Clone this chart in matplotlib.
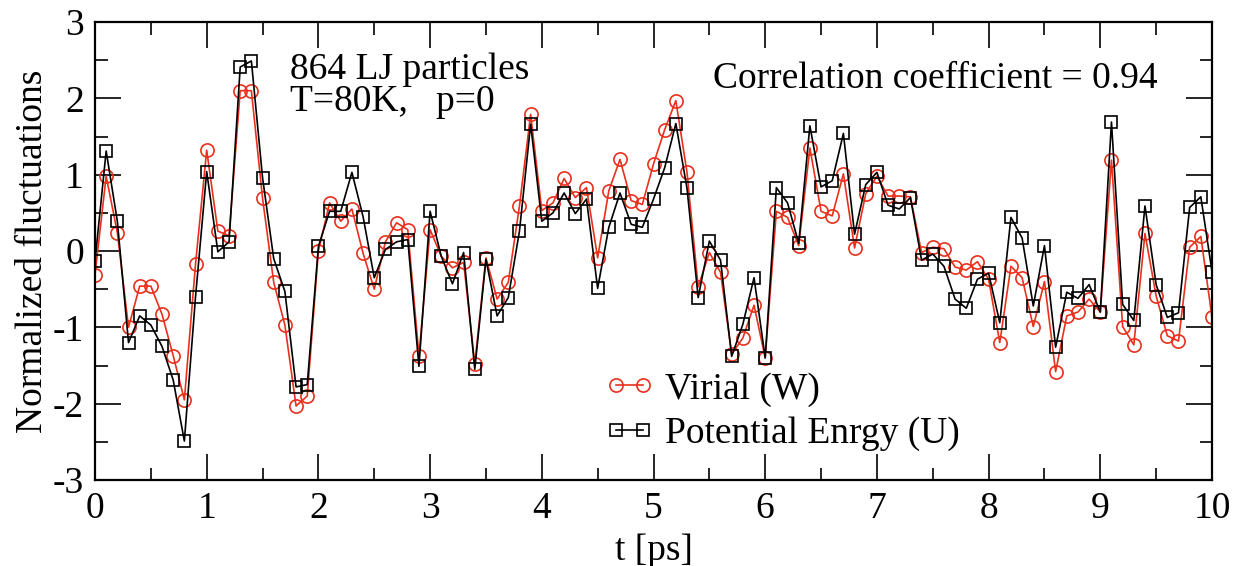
import numpy as np
import matplotlib
matplotlib.use("Agg")
import matplotlib.pyplot as plt
from matplotlib.ticker import MultipleLocator

t = [round(0.1 * i, 1) for i in range(101)]

virial = [
    -0.31, 0.98, 0.24, -1.00, -0.46, -0.46, -0.83, -1.37, -1.95, -0.17,
    1.32, 0.26, 0.20, 2.10, 2.10, 0.69, -0.41, -0.97, -2.03, -1.90,
    0.00, 0.63, 0.39, 0.55, -0.03, -0.50, 0.12, 0.37, 0.28, -1.37,
    0.28, -0.07, -0.22, -0.15, -1.48, -0.09, -0.63, -0.41, 0.59, 1.79,
    0.53, 0.63, 0.95, 0.70, 0.83, -0.09, 0.79, 1.20, 0.66, 0.61,
    1.14, 1.59, 1.97, 1.03, -0.47, -0.02, -0.28, -1.35, -1.14, -0.71,
    -1.40, 0.52, 0.44, 0.07, 1.35, 0.52, 0.46, 1.01, 0.04, 0.75,
    0.98, 0.72, 0.72, 0.71, -0.02, 0.05, 0.03, -0.21, -0.25, -0.14,
    -0.37, -1.20, -0.20, -0.35, -0.99, -0.40, -1.58, -0.85, -0.80, -0.63,
    -0.80, 1.19, -0.99, -1.23, 0.23, -0.59, -1.11, -1.18, 0.05, 0.19,
    -0.87,
]

potential = [
    -0.13, 1.31, 0.39, -1.20, -0.85, -0.97, -1.25, -1.69, -2.49, -0.60,
    1.04, -0.01, 0.12, 2.41, 2.49, 0.96, -0.10, -0.53, -1.78, -1.75,
    0.06, 0.52, 0.52, 1.03, 0.45, -0.35, 0.02, 0.12, 0.15, -1.51,
    0.52, -0.07, -0.43, -0.02, -1.55, -0.11, -0.85, -0.61, 0.26, 1.66,
    0.39, 0.50, 0.76, 0.49, 0.68, -0.49, 0.31, 0.76, 0.35, 0.31,
    0.68, 1.09, 1.67, 0.82, -0.61, 0.13, -0.12, -1.38, -0.96, -0.35,
    -1.40, 0.83, 0.63, 0.10, 1.64, 0.84, 0.92, 1.54, 0.22, 0.87,
    1.03, 0.60, 0.55, 0.70, -0.12, -0.04, -0.20, -0.63, -0.75, -0.37,
    -0.29, -0.94, 0.44, 0.17, -0.72, 0.07, -1.26, -0.54, -0.62, -0.44,
    -0.80, 1.69, -0.70, -0.91, 0.59, -0.44, -0.87, -0.81, 0.57, 0.71,
    -0.27,
]

x_ticks = list(range(0, 11))
y_ticks = list(range(-3, 4))

plt.rcParams['font.family'] = ['Liberation Serif', 'DejaVu Serif']
plt.rcParams['axes.unicode_minus'] = False

FS = 27

fig = plt.figure(figsize=(12.42, 5.66), dpi=100)
ax = fig.add_axes([95/1242, 1 - 480/566, (1212 - 95)/1242, (480 - 22)/566])

red = '#e8301c'
ax.plot(t, virial, color=red, lw=1.2, marker='o', ms=9.5, mfc='none',
        mec=red, mew=1.2, label='Virial (W)', zorder=2)
ax.plot(t, potential, color='black', lw=1.2, marker='s', ms=8.5, mfc='none',
        mec='black', mew=1.2, label='Potential Enrgy (U)', zorder=3)

ax.set_xlim(0, 10)
ax.set_ylim(-3, 3)
ax.set_xticks(x_ticks)
ax.set_yticks(y_ticks)
ax.xaxis.set_minor_locator(MultipleLocator(0.5))
ax.yaxis.set_minor_locator(MultipleLocator(0.5))
ax.tick_params(which='both', direction='in', top=True, right=True,
               labelsize=FS, width=1.2)
ax.tick_params(which='major', length=19, pad=8)
ax.tick_params(which='minor', length=9)
for s in ax.spines.values():
    s.set_linewidth(1.6)

ax.set_xlabel('t [ps]', fontsize=FS, labelpad=6)
ax.set_ylabel('Normalized fluctuations', fontsize=FS, labelpad=2)

ax.text(1.75, 2.25, '864 LJ particles', fontsize=FS, va='baseline', ha='left')
ax.text(1.75, 1.83, 'T=80K,   p=0', fontsize=FS, va='baseline', ha='left')
ax.text(5.53, 2.14, 'Correlation coefficient = 0.94', fontsize=FS,
        va='baseline', ha='left')

leg = ax.legend(loc='upper left', bbox_to_anchor=(605/1242, 1 - 372/566),
                bbox_transform=fig.transFigure, frameon=False, fontsize=FS,
                numpoints=2, handlelength=1.3, handletextpad=0.3,
                labelspacing=0.27, borderpad=0.0, borderaxespad=0.0)

fig.savefig('out.png', dpi=100)
